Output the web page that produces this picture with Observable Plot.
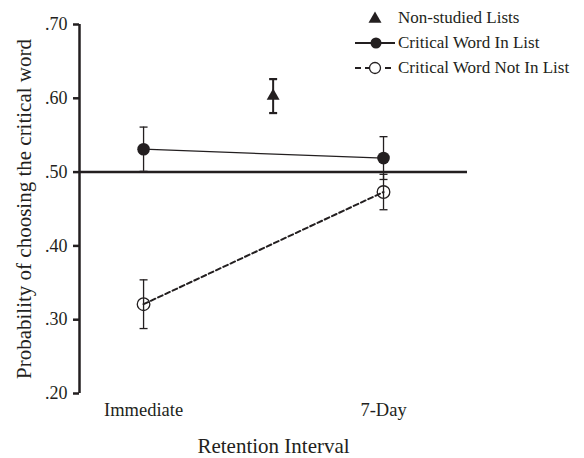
<!DOCTYPE html>
<html>
<head>
<meta charset="utf-8">
<script src="https://cdn.jsdelivr.net/npm/d3@7"></script>
<script src="https://cdn.jsdelivr.net/npm/@observablehq/plot@0.6"></script>
<style>
  html, body { margin: 0; padding: 0; background: #fff; }
  #wrap { position: relative; width: 584px; height: 458px; }
  #legend { position: absolute; left: 340px; top: 0px; }
</style>
</head>
<body>
<div id="wrap"><div id="chart"></div><div id="legend"></div></div>
<script>
// ---- data ----
const intervals = ["Immediate", "7-Day"];
const intervalPos = [0, 1];
const inList = [0.531, 0.519];
const inListErr = [0.030, 0.029];
const notInList = [0.321, 0.473];
const notInListErr = [0.033, 0.024];
const nonStudiedPos = [0.54];
const nonStudied = [0.603];
const nonStudiedErr = [0.023];
const yTicks = [0.2, 0.3, 0.4, 0.5, 0.6, 0.7];
const chance = [0.5];
const legendLabels = ["Non-studied Lists", "Critical Word In List", "Critical Word Not In List"];

const xDomain = [-0.267, 1.35];
const ink = "#231f20";
const serif = "'Liberation Serif', 'Times New Roman', serif";

const capSymbol = {
  draw(context, size) {
    const w = Math.sqrt(size / Math.PI);
    context.moveTo(-w, 0);
    context.lineTo(w, 0);
  }
};

const rowsIn = intervalPos.map((x, i) => ({x, y: inList[i], e: inListErr[i]}));
const rowsNot = intervalPos.map((x, i) => ({x, y: notInList[i], e: notInListErr[i]}));
const rowsNS = nonStudiedPos.map((x, i) => ({x, y: nonStudied[i], e: nonStudiedErr[i]}));
const caps = rows => rows.flatMap(d => [{x: d.x, y: d.y - d.e}, {x: d.x, y: d.y + d.e}]);

const chart = Plot.plot({
  width: 584,
  height: 458,
  marginLeft: 79,
  marginRight: 117,
  marginTop: 24,
  marginBottom: 65,
  style: {fontFamily: serif, fontSize: "18px", color: ink, background: "#fff"},
  x: {domain: xDomain},
  y: {domain: [0.2, 0.7]},
  marks: [
    Plot.axisY({
      ticks: yTicks,
      tickFormat: d => d3.format(".2f")(d).replace(/^0/, ""),
      tickSize: 6,
      tickPadding: 6,
      strokeWidth: 2.5,
      fontSize: 18,
      label: null
    }),
    Plot.axisY({
      ticks: [],
      tickSize: 0,
      fontSize: 21,
      label: "Probability of choosing the critical word",
      labelAnchor: "center",
      labelArrow: "none",
      labelOffset: 63
    }),
    Plot.ruleX([xDomain[0]], {y1: 0.2, y2: 0.7, stroke: ink, strokeWidth: 2.5}),
    Plot.axisX({
      ticks: intervalPos,
      tickFormat: i => intervals[i],
      tickSize: 0,
      tickPadding: 9,
      fontSize: 18.5,
      label: null
    }),
    Plot.axisX({
      ticks: [],
      tickSize: 0,
      fontSize: 21,
      label: "Retention Interval",
      labelAnchor: "center",
      labelArrow: "none",
      labelOffset: 59
    }),
    Plot.ruleY(chance, {stroke: ink, strokeWidth: 2.5}),
    // error bars
    Plot.ruleX(rowsIn, {x: "x", y1: d => d.y - d.e, y2: d => d.y + d.e, stroke: ink, strokeWidth: 1.3}),
    Plot.dot(caps(rowsIn), {x: "x", y: "y", symbol: capSymbol, r: 4, stroke: ink, strokeWidth: 1.3}),
    Plot.ruleX(rowsNot, {x: "x", y1: d => d.y - d.e, y2: d => d.y + d.e, stroke: ink, strokeWidth: 1.3}),
    Plot.dot(caps(rowsNot), {x: "x", y: "y", symbol: capSymbol, r: 4, stroke: ink, strokeWidth: 1.3}),
    Plot.ruleX(rowsNS, {x: "x", y1: d => d.y - d.e, y2: d => d.y + d.e, stroke: ink, strokeWidth: 2}),
    Plot.dot(caps(rowsNS), {x: "x", y: "y", symbol: capSymbol, r: 4, stroke: ink, strokeWidth: 2.2}),
    // lines
    Plot.line(rowsIn, {x: "x", y: "y", stroke: ink, strokeWidth: 1.3}),
    Plot.line(rowsNot, {x: "x", y: "y", stroke: ink, strokeWidth: 2, strokeDasharray: "5,3"}),
    // points
    Plot.dot(rowsIn, {x: "x", y: "y", r: 6.3, fill: ink, stroke: "none"}),
    Plot.dot(rowsNot, {x: "x", y: "y", r: 6.3, fill: "none", stroke: ink, strokeWidth: 1.3}),
    Plot.dot(rowsNS, {x: "x", y: "y", r: 4.8, symbol: "triangle", fill: ink, stroke: "none"})
  ]
});
document.getElementById("chart").appendChild(chart);

// ---- legend ----
const lg = d3.select("#legend").append("svg")
  .attr("width", 244).attr("height", 85)
  .style("font-family", serif).style("font-size", "17px");
const rowY = [18, 43, 68];
lg.append("path").attr("d", d3.symbol(d3.symbolTriangle, 73)()).attr("transform", `translate(35,${rowY[0] + 1})`).attr("fill", ink);
lg.append("line").attr("x1", 15).attr("x2", 55).attr("y1", rowY[1]).attr("y2", rowY[1]).attr("stroke", ink).attr("stroke-width", 2.2);
lg.append("circle").attr("cx", 36).attr("cy", rowY[1]).attr("r", 5.5).attr("fill", ink);
lg.append("line").attr("x1", 15).attr("x2", 55).attr("y1", rowY[2]).attr("y2", rowY[2]).attr("stroke", ink).attr("stroke-width", 2).attr("stroke-dasharray", "6,4");
lg.append("circle").attr("cx", 35).attr("cy", rowY[2]).attr("r", 5.5).attr("fill", "#fff").attr("stroke", ink).attr("stroke-width", 1.3);
lg.selectAll("text.l").data(legendLabels).join("text")
  .attr("x", 58).attr("y", (d, i) => rowY[i]).attr("dy", "0.32em").attr("fill", ink).text(d => d);
</script>
</body>
</html>
